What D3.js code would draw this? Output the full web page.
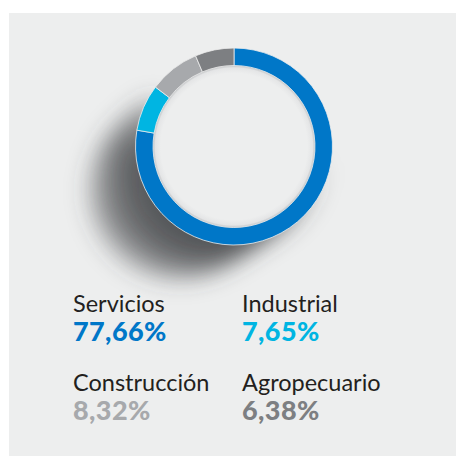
<!DOCTYPE html>
<meta charset="utf-8">
<html>
<head>
    <title>Sectores</title>
    <script type="text/javascript" src="https://cdn.jsdelivr.net/npm/d3@7"></script>
    <style>
        body { margin: 0; background: #ffffff; }
        svg { display: block; }
        .name { font-family: Lato, "Open Sans", sans-serif; font-size: 23.5px; fill: #231f20; }
        .pct { font-family: Lato, "Open Sans", sans-serif; font-size: 27px; font-weight: 900; letter-spacing: 0.4px; }
    </style>
</head>
<body>
    <div id="chart"></div>
    <script>

        // data
        var sectors = ["Servicios", "Industrial", "Construcción", "Agropecuario"];
        var shares = [77.66, 7.65, 8.32, 6.38];
        var labels = ["77,66%", "7,65%", "8,32%", "6,38%"];
        var colors = ["#0077c8", "#00b5e2", "#a7a9ac", "#7d7f82"];

        var width = 457, height = 457;
        var cx = 234, cy = 146.5, outerR = 98.5, innerR = 81;

        var svg = d3.select("#chart").append("svg")
            .attr("width", width)
            .attr("height", height);

        var defs = svg.append("defs");

        // blur for the long shadow
        defs.append("filter").attr("id", "blur")
            .attr("x", "-50%").attr("y", "-50%").attr("width", "200%").attr("height", "200%")
            .append("feGaussianBlur").attr("stdDeviation", 11);

        // shadow fades out toward the top
        var sg = defs.append("linearGradient").attr("id", "shade")
            .attr("gradientUnits", "userSpaceOnUse")
            .attr("x1", cx + 10).attr("y1", cy - 20)
            .attr("x2", cx - 40).attr("y2", cy + 110);
        sg.append("stop").attr("offset", "0").attr("stop-color", "#404245").attr("stop-opacity", 0);
        sg.append("stop").attr("offset", "0.5").attr("stop-color", "#404245").attr("stop-opacity", 0.8);
        sg.append("stop").attr("offset", "1").attr("stop-color", "#404245").attr("stop-opacity", 1);

        // inner disc with a soft inset shadow at its rim
        var rg = defs.append("radialGradient").attr("id", "inner");
        rg.append("stop").attr("offset", "0.9").attr("stop-color", "#edeeee");
        rg.append("stop").attr("offset", "0.965").attr("stop-color", "#e4e5e6");
        rg.append("stop").attr("offset", "1").attr("stop-color", "#b9bbbd");

        // panel
        svg.append("rect")
            .attr("x", 9).attr("y", 13)
            .attr("width", width - 10).attr("height", height - 14)
            .attr("fill", "#edeeee");

        // long shadow cast toward the lower left
        var steps = d3.range(0, 15);
        svg.append("g")
            .attr("filter", "url(#blur)")
            .selectAll("circle")
            .data(steps)
            .join("circle")
            .attr("cx", d => cx - d * 4.1)
            .attr("cy", d => cy + d * 3.2)
            .attr("r", d => outerR - d * 0.5)
            .attr("fill", "url(#shade)")
            .attr("fill-opacity", 0.15);

        // donut
        var pie = d3.pie().sort(null).value(d => d);
        var arc = d3.arc().innerRadius(innerR).outerRadius(outerR);

        var ring = svg.append("g")
            .attr("transform", "translate(" + cx + "," + cy + ")");

        ring.append("circle")
            .attr("r", innerR + 0.5)
            .attr("fill", "url(#inner)");

        ring.selectAll("path")
            .data(pie(shares))
            .join("path")
            .attr("d", arc)
            .attr("fill", (d, i) => colors[i])
            .attr("stroke", "#edeeee")
            .attr("stroke-width", 0.8);

        // legend
        var colX = [73, 242];
        var rowY = [312, 391];

        var items = svg.append("g")
            .selectAll("g")
            .data(sectors)
            .join("g")
            .attr("transform", (d, i) => "translate(" + colX[i % 2] + "," + rowY[Math.floor(i / 2)] + ")");

        items.append("text")
            .attr("class", "name")
            .text(d => d);

        items.append("text")
            .attr("class", "pct")
            .attr("y", 28.5)
            .attr("fill", (d, i) => colors[i])
            .text((d, i) => labels[i]);

    </script>
</body>
</html>
